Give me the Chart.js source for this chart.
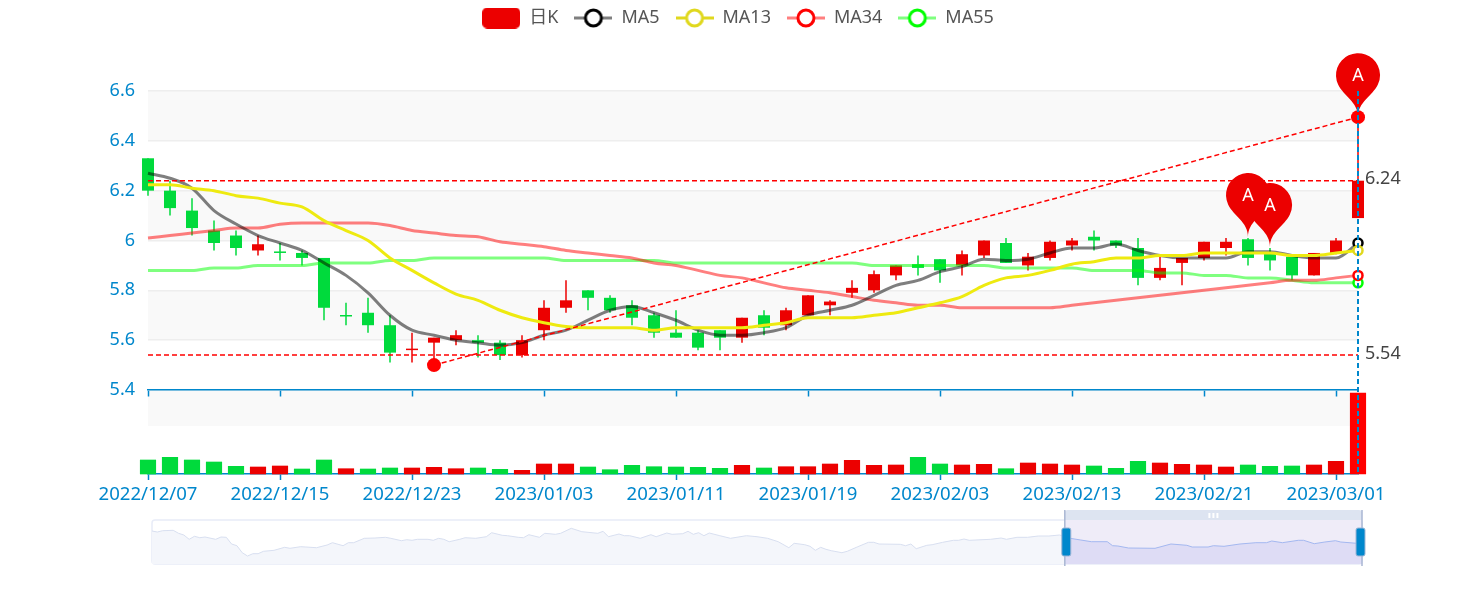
<!DOCTYPE html>
<html>
<head>
<meta charset="utf-8">
<style>
  html, body { margin: 0; background: #fff; overflow: hidden; }
  #wrap { position: relative; width: 1476px; height: 600px; overflow: hidden; }
  #mainBox { position: absolute; left: 0; top: -7px; width: 1476px; height: 517px; }
  #sliderBox { position: absolute; left: 0; top: 505px; width: 1476px; height: 70px; }
</style>
<script src="https://cdn.jsdelivr.net/npm/chart.js@4/dist/chart.umd.min.js"></script>
</head>
<body>
<div id="wrap">
  <div id="mainBox"><canvas id="mainChart" width="1476" height="517"></canvas></div>
  <div id="sliderBox"><canvas id="sliderChart" width="1476" height="70"></canvas></div>
</div>
<script>
const dates = ['2022/12/07','2022/12/08','2022/12/09','2022/12/12','2022/12/13','2022/12/14','2022/12/15','2022/12/16',
  '2022/12/19','2022/12/20','2022/12/21','2022/12/22','2022/12/23','2022/12/26','2022/12/27','2022/12/28','2022/12/29','2022/12/30',
  '2023/01/03','2023/01/04','2023/01/05','2023/01/06','2023/01/09','2023/01/10','2023/01/11','2023/01/12','2023/01/13',
  '2023/01/16','2023/01/17','2023/01/18','2023/01/19','2023/01/20','2023/01/30','2023/01/31','2023/02/01','2023/02/02','2023/02/03',
  '2023/02/06','2023/02/07','2023/02/08','2023/02/09','2023/02/10','2023/02/13','2023/02/14','2023/02/15','2023/02/16','2023/02/17',
  '2023/02/20','2023/02/21','2023/02/22','2023/02/23','2023/02/24','2023/02/27','2023/02/28','2023/03/01','2023/03/02'];

const opens = [6.33,6.20,6.12,6.04,6.02,5.96,5.955,5.95,5.93,5.70,5.71,5.66,5.56,5.59,5.60,5.60,5.59,5.54,5.64,5.73,
  5.80,5.77,5.74,5.70,5.63,5.63,5.64,5.61,5.70,5.66,5.70,5.74,5.79,5.80,5.86,5.905,5.925,5.90,5.94,5.99,
  5.90,5.93,5.98,6.015,6.00,5.97,5.85,5.91,5.93,5.97,6.005,5.95,5.935,5.86,5.95,6.09];
const closes = [6.20,6.13,6.05,5.99,5.97,5.985,5.95,5.93,5.73,5.695,5.66,5.55,5.565,5.61,5.62,5.59,5.54,5.60,5.73,5.76,
  5.77,5.72,5.69,5.63,5.61,5.57,5.61,5.69,5.65,5.72,5.78,5.755,5.81,5.865,5.90,5.89,5.88,5.945,6.00,5.91,
  5.935,5.995,6.00,6.00,5.98,5.85,5.89,5.93,5.995,5.995,5.93,5.92,5.86,5.95,6.00,6.24];
const lows = [6.18,6.10,6.02,5.96,5.94,5.94,5.92,5.90,5.68,5.66,5.63,5.51,5.51,5.50,5.58,5.53,5.52,5.53,5.60,5.71,
  5.72,5.71,5.66,5.61,5.61,5.56,5.56,5.59,5.62,5.64,5.70,5.70,5.77,5.79,5.84,5.86,5.83,5.86,5.93,5.91,
  5.88,5.92,5.96,5.96,5.97,5.82,5.84,5.82,5.92,5.94,5.90,5.88,5.84,5.86,5.945,6.09];
const highs = [6.33,6.24,6.17,6.08,6.04,6.02,5.99,5.96,5.93,5.75,5.77,5.70,5.63,5.61,5.64,5.62,5.60,5.62,5.76,5.84,
  5.80,5.78,5.76,5.71,5.72,5.64,5.64,5.69,5.72,5.73,5.78,5.76,5.84,5.88,5.90,5.94,5.925,5.96,6.00,6.01,
  5.95,6.00,6.01,6.04,6.00,6.01,5.94,5.93,5.995,6.01,6.01,5.97,5.935,5.95,6.01,6.495];

const ma5 = [6.27,6.25,6.21,6.12,6.066,6.02,5.99,5.96,5.91,5.86,5.79,5.70,5.64,5.62,5.60,5.59,5.58,5.59,5.62,5.64,
  5.68,5.72,5.735,5.71,5.68,5.64,5.62,5.62,5.63,5.65,5.70,5.72,5.74,5.78,5.82,5.84,5.875,5.895,5.925,5.92,
  5.925,5.95,5.97,5.97,5.986,5.96,5.94,5.93,5.93,5.93,5.955,5.955,5.94,5.93,5.93,5.99];
const ma13 = [6.224,6.224,6.21,6.20,6.18,6.17,6.15,6.135,6.08,6.04,6.00,5.93,5.88,5.83,5.785,5.76,5.72,5.69,5.67,5.655,
  5.65,5.65,5.65,5.64,5.65,5.65,5.65,5.65,5.66,5.67,5.69,5.69,5.69,5.70,5.71,5.73,5.75,5.775,5.82,5.85,
  5.86,5.88,5.905,5.915,5.93,5.93,5.94,5.94,5.95,5.95,5.95,5.95,5.94,5.94,5.95,5.96];
const ma34 = [6.01,6.02,6.03,6.04,6.05,6.05,6.065,6.07,6.07,6.07,6.07,6.06,6.04,6.03,6.02,6.015,5.995,5.985,5.975,5.96,
  5.95,5.94,5.93,5.91,5.90,5.88,5.86,5.85,5.83,5.81,5.80,5.79,5.775,5.76,5.75,5.74,5.74,5.73,5.73,5.73,
  5.73,5.73,5.74,5.75,5.76,5.77,5.78,5.79,5.80,5.81,5.82,5.83,5.84,5.84,5.85,5.86];
const ma55 = [5.88,5.88,5.88,5.89,5.89,5.90,5.90,5.90,5.91,5.91,5.91,5.92,5.92,5.93,5.93,5.93,5.93,5.93,5.93,5.92,
  5.92,5.92,5.92,5.92,5.91,5.91,5.91,5.91,5.91,5.91,5.91,5.91,5.91,5.90,5.90,5.90,5.90,5.90,5.90,5.89,
  5.89,5.89,5.89,5.88,5.88,5.88,5.87,5.87,5.86,5.86,5.85,5.85,5.84,5.83,5.83,5.83];

const volumes = [14,16.7,14,12,7.7,7,8,5,14,5.3,5,6,6,6.7,5.3,6,4.7,3.7,10,10,
  7,4.3,8.7,7.3,7,6.7,5.7,8.7,6,7.3,7.3,10,13.7,8.7,9,16.7,10,9,9.7,5.3,
  11,10,9,8,5.7,12.7,11,9.7,9,7,9,7.7,8,9,12.7,81];
const volumeSigns = [-1,-1,-1,-1,-1,1,1,-1,-1,1,-1,-1,1,1,1,-1,-1,1,1,1,
  -1,-1,-1,-1,-1,-1,-1,1,-1,1,1,1,1,1,1,-1,-1,1,1,-1,
  1,1,1,-1,-1,-1,1,1,1,1,-1,-1,-1,1,1,1];

const priceTicks = [5.4,5.6,5.8,6,6.2,6.4,6.6];
const markHigh = 6.24;
const markLow = 5.54;
const trendStart = { index: 13, value: 5.5 };
const trendEnd = { index: 55, value: 6.495 };
const pinIndexes = [50, 51, 55];
const pinValues = [6.014, 5.974, 6.495];
const legendNames = ['日K', 'MA5', 'MA13', 'MA34', 'MA55'];

const sliderDays = [0,1,2,4,5,6,7,8,9,10,12,13,14,15,16,17,18,19,20,21,23,25,26,28,29,31,33,34,36,37,38,40,42,44,45,47,48,49,50,52,53,54,55,56,
  58,59,61,63,64,66,67,69,70,71,73,74,76,77,79,81,84,85,86,88,89,90,92,94,95,97,98,100,101,102,103,104,105,107,109,112,114,116,
  118,120,121,123,124,125,126,127,128,130,131,133,135,136,137,141,142,143,144,146,147,149,151,152,153,154,158,160,161,163,165,167,169,171,172,
  173,175,177,180,181,182,184,189,192,195,196,199,200,202,205,208,210,211,213,216,217,219,221,223,224,227,228];
const sliderLevels = [33,32,33.3,33.7,30.7,29,24.7,27.7,26.3,27,24.7,27,26.7,20,18.3,11.3,8,10.3,10.3,12.7,13.7,16.7,15.7,17.3,17,16.3,19,21.3,18.3,21.3,21.3,25.7,26,26.7,25.7,23.3,24.3,23.7,24.7,24.7,23.7,25.7,24.7,22.3,
  24.7,26.3,25.7,27.3,31.3,28.7,28.3,26.7,26.3,29.3,26.7,30.7,29.7,30.7,35.7,32.3,30.7,32.7,27.3,30,28.3,28.3,25.7,29.3,27.3,31,29.7,30.3,32.7,29.7,31.3,28.3,31,28.3,25.7,28.3,27.3,25.7,
  22.3,16.3,20.7,19.3,17.7,13.7,16.7,14.7,13.3,11.3,12.7,17.3,21.7,21.7,20,19.7,18.3,20,15.3,18.7,19.3,21.7,23.7,23.7,25,23.7,24.7,26,24.7,26.7,26.7,28,28,29,27.5,
  25.7,24,22.3,22.3,18.3,18,16,15.7,20,18.7,17,17,18.3,17.7,20,21.3,21.3,23,21.3,23.7,23.7,20.3,22,23.3,22,20.7,21];
const sliderWindowStart = 172;
const sliderLastDay = 228;

const BLUE = '#0087cc';
const RED = '#ec0000';
const GREEN = '#00da3c';
const FONT = '"Noto Sans", "Noto Sans CJK SC", sans-serif';

Chart.defaults.font.family = FONT;
Chart.defaults.font.size = 18;
Chart.defaults.animation = false;

function candleColor(ctx) {
  return closes[ctx.dataIndex] > opens[ctx.dataIndex] ? RED : GREEN;
}

function volumeColor(ctx) {
  if (ctx.dataIndex === dates.length - 1) return '#f00';
  return volumeSigns[ctx.dataIndex] > 0 ? RED : GREEN;
}

// legend swatches
function rectSwatch() {
  const c = document.createElement('canvas');
  c.width = 38; c.height = 21;
  const g = c.getContext('2d');
  g.fillStyle = RED;
  g.beginPath();
  g.roundRect(0, 0, 38, 21, 5);
  g.fill();
  return c;
}

function lineSwatch(lineColor, ringColor) {
  const c = document.createElement('canvas');
  c.width = 38; c.height = 22;
  const g = c.getContext('2d');
  g.fillStyle = lineColor;
  g.fillRect(0, 9.5, 38, 3);
  g.beginPath();
  g.arc(19, 11, 8, 0, 2 * Math.PI);
  g.fillStyle = '#fff';
  g.fill();
  g.lineWidth = 3;
  g.strokeStyle = ringColor;
  g.stroke();
  return c;
}

const legendSwatches = [
  rectSwatch(),
  lineSwatch('rgba(0,0,0,0.5)', '#000'),
  lineSwatch('#e0d81e', '#e0d81e'),
  lineSwatch('rgba(255,0,0,0.5)', '#f00'),
  lineSwatch('rgba(0,255,0,0.5)', '#0f0')
];

function maDataset(label, data, color, ring, order) {
  return {
    type: 'line', label, data, order,
    xAxisID: 'x', yAxisID: 'y',
    borderColor: color, borderWidth: 3,
    cubicInterpolationMode: 'monotone',
    clip: false,
    pointRadius: ctx => ctx.dataIndex === dates.length - 1 ? 4.5 : 0,
    pointBackgroundColor: '#fff',
    pointBorderColor: ring,
    pointBorderWidth: 2.5
  };
}

function markDataset(points, radius) {
  return {
    type: 'line', data: points, order: 1,
    xAxisID: 'x', yAxisID: 'y',
    borderColor: '#f00', borderWidth: 1.5, borderDash: [5, 3],
    tension: 0, clip: false,
    pointRadius: radius, pointBackgroundColor: '#f00', pointBorderColor: '#f00', pointBorderWidth: 0
  };
}

// room between the legend and the plot
const legendGap = {
  id: 'legendGap',
  beforeInit(chart) {
    const fit = chart.legend.fit;
    chart.legend.fit = function () {
      fit.call(this);
      this.height += 54;
    };
  }
};

const bandPlugin = {
  id: 'bands',
  beforeDraw(chart) {
    const { ctx, chartArea, scales } = chart;
    const y = scales.y, v = scales.yVol;
    ctx.save();
    ctx.fillStyle = '#f9f9f9';
    [[6.6, 6.4], [6.2, 6.0], [5.8, 5.6]].forEach(([a, b]) => {
      ctx.fillRect(chartArea.left, y.getPixelForValue(a), chartArea.width, y.getPixelForValue(b) - y.getPixelForValue(a));
    });
    ctx.fillRect(chartArea.left, v.getPixelForValue(84), chartArea.width, v.getPixelForValue(48) - v.getPixelForValue(84));
    ctx.restore();
  }
};

function drawPin(ctx, x, tip) {
  const h = 73.4, r = 22;
  const dy = r * r / (h - r);
  const cy = tip - h + r + dy;
  const angle = Math.asin(dy / r);
  const dx = Math.cos(angle) * r;
  const tanX = Math.sin(angle), tanY = Math.cos(angle);
  const cpLen = r * 0.6, cpLen2 = r * 0.7;
  ctx.beginPath();
  ctx.moveTo(x - dx, cy + dy);
  ctx.arc(x, cy, r, Math.PI - angle, Math.PI * 2 + angle);
  ctx.bezierCurveTo(x + dx - tanX * cpLen, cy + dy + tanY * cpLen, x, tip - cpLen2, x, tip);
  ctx.bezierCurveTo(x, tip - cpLen2, x - dx + tanX * cpLen, cy + dy + tanY * cpLen, x - dx, cy + dy);
  ctx.closePath();
  ctx.fillStyle = RED;
  ctx.fill();
}

const overlayPlugin = {
  id: 'overlay',
  afterDatasetsDraw(chart) {
    const { ctx, chartArea, scales } = chart;
    const x = scales.x, y = scales.y;
    ctx.save();

    pinIndexes.forEach((idx, i) => drawPin(ctx, x.getPixelForValue(idx), y.getPixelForValue(pinValues[i])));
    ctx.fillStyle = '#fff';
    ctx.font = '18px ' + FONT;
    ctx.textAlign = 'center';
    ctx.textBaseline = 'middle';
    pinIndexes.forEach((idx, i) => ctx.fillText('A', x.getPixelForValue(idx), y.getPixelForValue(pinValues[i]) - 41));

    // mark line labels
    ctx.fillStyle = '#444';
    ctx.textAlign = 'left';
    ctx.fillText(String(markHigh), chartArea.right + 7, y.getPixelForValue(markHigh) - 2);
    ctx.fillText(String(markLow), chartArea.right + 7, y.getPixelForValue(markLow) - 1);

    // axis pointer on the last day
    const px = x.getPixelForValue(dates.length - 1);
    ctx.strokeStyle = BLUE;
    ctx.lineWidth = 2;
    ctx.setLineDash([5, 3]);
    ctx.beginPath();
    ctx.moveTo(px, chartArea.top);
    ctx.lineTo(px, chartArea.bottom);
    ctx.stroke();
    ctx.restore();
  }
};

new Chart(document.getElementById('mainChart'), {
  type: 'bar',
  plugins: [legendGap, bandPlugin, overlayPlugin],
  data: {
    labels: dates,
    datasets: [
      {
        label: legendNames[0],
        data: lows.map((l, i) => [l, highs[i]]),
        xAxisID: 'x', yAxisID: 'y', order: 11, grouped: false, clip: false,
        barThickness: 1.5, inflateAmount: 0, backgroundColor: candleColor
      },
      {
        label: legendNames[0],
        data: opens.map((o, i) => [o, closes[i]]),
        xAxisID: 'x', yAxisID: 'y', order: 10, grouped: false, clip: false,
        barThickness: 12, minBarLength: 1.5, inflateAmount: 0, backgroundColor: candleColor
      },
      {
        label: 'Volume',
        data: volumes,
        xAxisID: 'x', yAxisID: 'yVol', order: 9, grouped: false, clip: false,
        barThickness: 15.5,
        backgroundColor: volumeColor
      },
      maDataset(legendNames[1], ma5, 'rgba(0,0,0,0.5)', '#000', 4),
      maDataset(legendNames[2], ma13, '#eeea10', '#e0d81e', 3),
      maDataset(legendNames[3], ma34, 'rgba(255,0,0,0.5)', '#f00', 5),
      maDataset(legendNames[4], ma55, 'rgba(0,255,0,0.5)', '#0f0', 6),
      markDataset([{ x: dates[0], y: markHigh }, { x: dates[dates.length - 1], y: markHigh }], 0),
      markDataset([{ x: dates[0], y: markLow }, { x: dates[dates.length - 1], y: markLow }], 0),
      markDataset([{ x: dates[trendStart.index], y: trendStart.value }, { x: dates[trendEnd.index], y: trendEnd.value }], 7)
    ]
  },
  options: {
    responsive: false,
    events: [],
    layout: { padding: 0 },
    plugins: {
      tooltip: { enabled: false },
      legend: {
        position: 'top',
        labels: {
          usePointStyle: true,
          pointStyleWidth: 38,
          padding: 16,
          color: '#555',
          font: { size: 18, family: FONT },
          generateLabels: () => legendNames.map((name, i) => ({
            text: name, pointStyle: legendSwatches[i], fontColor: '#555', lineWidth: 0, strokeStyle: 'transparent'
          }))
        }
      }
    },
    scales: {
      x: {
        type: 'category',
        position: 'bottom',
        offset: false,
        afterBuildTicks(scale) { scale.ticks = scale.ticks.filter(t => t.value % 6 === 0); },
        afterFit(scale) { scale.height = 36; },
        grid: { offset: false, drawOnChartArea: false, drawTicks: true, tickLength: 6, tickColor: BLUE, tickWidth: 1.5 },
        border: { color: BLUE, width: 1.5 },
        ticks: { color: BLUE, autoSkip: false, maxRotation: 0, minRotation: 0, padding: 4, font: { size: 18.6 } }
      },
      xPrice: {
        type: 'category',
        labels: dates,
        axis: 'x',
        position: { y: 5.4 },
        offset: false,
        afterBuildTicks(scale) { scale.ticks = scale.ticks.filter(t => t.value % 6 === 0); },
        grid: { offset: false, drawOnChartArea: false, drawTicks: true, tickLength: 6, tickColor: BLUE, tickWidth: 1.5 },
        border: { color: BLUE, width: 1.5 },
        ticks: { display: false, autoSkip: false, maxRotation: 0 }
      },
      y: {
        type: 'linear',
        position: 'left',
        stack: 'price',
        stackWeight: 299,
        weight: 2,
        min: priceTicks[0],
        max: priceTicks[priceTicks.length - 1],
        afterBuildTicks(scale) { scale.ticks = priceTicks.map(value => ({ value })); },
        afterFit(scale) { scale.width = 148; },
        grid: { color: '#eeeeee', lineWidth: 1.5, drawTicks: false },
        border: { display: false },
        ticks: { color: BLUE, padding: 13, font: { size: 18 }, callback: v => String(parseFloat(v.toFixed(1))) }
      },
      yVol: {
        type: 'linear',
        position: 'left',
        stack: 'price',
        stackWeight: 84,
        weight: 1,
        min: 0,
        max: 84,
        afterFit(scale) { scale.width = 148; },
        grid: { display: false },
        border: { display: false },
        ticks: { display: false }
      },
      // empty axis that keeps the right margin for the mark labels
      yMargin: {
        type: 'linear',
        position: 'right',
        afterFit(scale) { scale.width = 118; },
        grid: { display: false },
        border: { display: false },
        ticks: { display: false }
      }
    }
  }
});

// data zoom slider
const sliderPoints = sliderDays.map((d, i) => ({ x: d, y: sliderLevels[i] }));
const sliderBefore = sliderPoints.filter(p => p.x <= sliderWindowStart);
const sliderAfter = sliderPoints.filter(p => p.x >= sliderWindowStart);

const sliderPlugin = {
  id: 'sliderFrame',
  beforeDatasetsDraw(chart) {
    const { ctx, chartArea, scales } = chart;
    const a = scales.x.getPixelForValue(sliderWindowStart);
    const b = chartArea.right;
    ctx.save();
    ctx.strokeStyle = '#e8ecf8';
    ctx.lineWidth = 1.5;
    ctx.beginPath();
    ctx.roundRect(chartArea.left, chartArea.top, chartArea.width, chartArea.height, 3);
    ctx.stroke();
    ctx.fillStyle = '#efecf8';
    ctx.fillRect(a, chartArea.top, b - a, chartArea.height);
    ctx.restore();
  },
  afterDatasetsDraw(chart) {
    const { ctx, chartArea, scales } = chart;
    const a = scales.x.getPixelForValue(sliderWindowStart);
    const b = chartArea.right;
    ctx.save();
    ctx.fillStyle = '#dde4f1';
    ctx.beginPath();
    ctx.roundRect(a, chartArea.top - 10, b - a, 10, [3, 3, 0, 0]);
    ctx.fill();
    ctx.fillStyle = '#fff';
    [-4, 0, 4].forEach(d => ctx.fillRect((a + b) / 2 + d - 1, chartArea.top - 7, 2, 5));
    [[a, 1.5], [b, -1.5]].forEach(([px, nudge]) => {
      ctx.fillStyle = '#a9b7d3';
      ctx.fillRect(px - 0.75, chartArea.top - 10, 1.5, chartArea.height + 12);
      ctx.fillStyle = BLUE;
      ctx.strokeStyle = '#9db6d6';
      ctx.lineWidth = 1;
      ctx.beginPath();
      ctx.roundRect(px + nudge - 4.5, chartArea.top + 8, 9, 28, 2);
      ctx.fill();
      ctx.stroke();
    });
    ctx.restore();
  }
};

new Chart(document.getElementById('sliderChart'), {
  type: 'line',
  plugins: [sliderPlugin],
  data: {
    datasets: [
      { data: sliderBefore, borderColor: '#d8dff0', borderWidth: 1, backgroundColor: '#f4f6fb', fill: 'origin', pointRadius: 0, tension: 0 },
      { data: sliderAfter, borderColor: '#a4b8f0', borderWidth: 1, backgroundColor: '#dedcf5', fill: 'origin', pointRadius: 0, tension: 0 }
    ]
  },
  options: {
    responsive: false,
    events: [],
    layout: { padding: { left: 152, right: 114, top: 15, bottom: 11 } },
    plugins: { legend: { display: false }, tooltip: { enabled: false } },
    scales: {
      x: { type: 'linear', min: 0, max: sliderLastDay, display: false },
      y: { min: 0, max: 44, display: false }
    }
  }
});
</script>
</body>
</html>
